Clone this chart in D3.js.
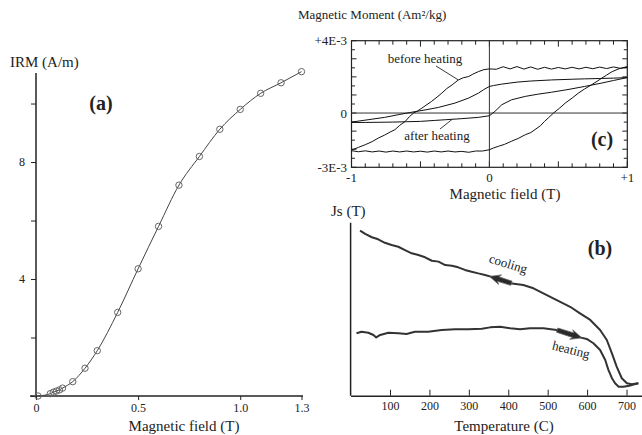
<!DOCTYPE html>
<html>
<head>
<meta charset="utf-8">
<script src="https://cdn.jsdelivr.net/npm/d3@7"></script>
<style>
  body { margin: 0; background: #fff; }
  svg text { font-family: "Liberation Serif", "Tinos", "Times New Roman", Times, "DejaVu Serif", "Noto Serif", serif !important; fill: #222; }
  .eje path, .eje line { stroke: #222; }
</style>
</head>
<body>
<svg id="figura" width="642" height="435"></svg>
<script>
// ---- Datos panel (a): IRM ----
var irmCampo = [0.01, 0.07, 0.085, 0.10, 0.115, 0.13, 0.18, 0.24, 0.30, 0.40, 0.50, 0.60, 0.70, 0.80, 0.90, 1.00, 1.10, 1.20, 1.30];
var irmValor = [0.00, 0.08, 0.13, 0.17, 0.21, 0.27, 0.49, 0.95, 1.55, 2.86, 4.35, 5.80, 7.21, 8.19, 9.12, 9.80, 10.35, 10.71, 11.09];
var irmTicksX = [0, 0.5, 1.0, 1.3];
var irmEtiquetasX = ["0", "0.5", "1.0", "1.3"];
var irmTicksY = [0, 2, 4, 6, 8, 10];
var irmEtiquetasY = ["", "", "4", "", "8", ""];

// ---- Datos panel (c): ciclos de histéresis (E-3 Am2/kg) ----
var antesSupCampo = [1.0, 0.95, 0.9, 0.85, 0.8, 0.75, 0.7, 0.65, 0.6, 0.55, 0.5, 0.45, 0.4, 0.35, 0.3, 0.25, 0.2, 0.15, 0.1, 0.05, 0.0,
  -0.04, -0.08, -0.12, -0.15, -0.19, -0.225, -0.27, -0.31, -0.345, -0.38, -0.42, -0.46, -0.49, -0.52, -0.55, -0.58, -0.61, -0.65, -0.685, -0.72, -0.76, -0.805, -0.85, -0.9, -0.95, -1.0];
var antesSupMom = [2.53, 2.47, 2.55, 2.46, 2.54, 2.45, 2.53, 2.44, 2.53, 2.44, 2.52, 2.43, 2.53, 2.42, 2.55, 2.43, 2.57, 2.44, 2.56, 2.42, 2.44,
  2.40, 2.29, 2.15, 2.02, 1.95, 1.83, 1.56, 1.35, 1.10, 0.88, 0.64, 0.43, 0.27, 0.12, 0.0, -0.20, -0.46, -0.68, -0.92, -1.05, -1.22, -1.38, -1.58, -1.75, -1.90, -2.05];
var antesInfCampo = [-1.0, -0.95, -0.9, -0.85, -0.8, -0.75, -0.7, -0.65, -0.6, -0.55, -0.5, -0.45, -0.4, -0.35, -0.3, -0.25, -0.2, -0.15, -0.1, -0.05, 0.0,
  0.03, 0.065, 0.11, 0.16, 0.21, 0.26, 0.30, 0.33, 0.37, 0.40, 0.43, 0.465, 0.51, 0.55, 0.60, 0.645, 0.69, 0.74, 0.78, 0.815, 0.85, 0.89, 0.94, 1.0];
var antesInfMom = [-2.08, -2.14, -2.09, -2.15, -2.10, -2.16, -2.10, -2.15, -2.10, -2.15, -2.11, -2.16, -2.10, -2.15, -2.10, -2.15, -2.12, -2.17, -2.10, -2.10, -2.03,
  -1.93, -1.84, -1.73, -1.56, -1.40, -1.20, -1.08, -0.92, -0.70, -0.46, -0.25, 0.0, 0.28, 0.55, 0.83, 1.10, 1.33, 1.56, 1.75, 1.93, 2.10, 2.29, 2.45, 2.57];
var despSupCampo = [1.0, 0.9, 0.8, 0.69, 0.6, 0.45, 0.3, 0.2, 0.09, 0.03, 0.0, -0.04, -0.08, -0.15, -0.25, -0.37, -0.46, -0.56, -0.66, -0.76, -0.88, -1.0];
var despSupMom = [1.96, 1.93, 1.91, 1.89, 1.87, 1.83, 1.77, 1.71, 1.60, 1.52, 1.47, 1.30, 1.10, 0.83, 0.55, 0.31, 0.18, 0.05, -0.09, -0.24, -0.37, -0.50];
var despInfCampo = [-1.0, -0.9, -0.8, -0.7, -0.6, -0.5, -0.4, -0.32, -0.2, -0.08, 0.0, 0.04, 0.09, 0.16, 0.26, 0.35, 0.45, 0.57, 0.69, 0.81, 0.9, 1.0];
var despInfMom = [-0.52, -0.52, -0.51, -0.50, -0.48, -0.46, -0.41, -0.37, -0.31, -0.24, -0.15, 0.09, 0.46, 0.73, 0.92, 1.04, 1.15, 1.30, 1.47, 1.65, 1.80, 1.96];
var cicloTicksY = [4, 0, -3];
var cicloEtiquetasY = ["+4E-3", "0", "-3E-3"];
var cicloTicksX = [-1, 0, 1];
var cicloEtiquetasX = ["-1", "0", "+1"];

// ---- Datos panel (b): Js frente a temperatura ----
var enfrT = [24, 37, 54, 70, 87, 104, 121, 138, 155, 172, 189, 206, 223, 240, 257, 273, 290, 307, 324, 341, 362, 380, 405, 438, 464, 489, 523, 557, 582, 608, 633, 650, 663, 675, 688, 701, 713, 730];
var enfrJs = [0.954, 0.935, 0.916, 0.904, 0.884, 0.871, 0.861, 0.842, 0.823, 0.813, 0.800, 0.780, 0.775, 0.755, 0.751, 0.742, 0.727, 0.717, 0.707, 0.698, 0.684, 0.668, 0.650, 0.640, 0.621, 0.592, 0.553, 0.514, 0.476, 0.438, 0.380, 0.322, 0.245, 0.168, 0.101, 0.072, 0.066, 0.072];
var calT = [15, 28, 45, 58, 65, 75, 96, 121, 142, 163, 197, 231, 265, 299, 333, 354, 379, 405, 430, 455, 489, 523, 540, 557, 582, 599, 616, 633, 646, 654, 663, 671, 680, 692, 707, 720, 730];
var calJs = [0.361, 0.370, 0.364, 0.351, 0.337, 0.351, 0.364, 0.361, 0.357, 0.370, 0.370, 0.380, 0.384, 0.384, 0.387, 0.395, 0.399, 0.390, 0.384, 0.390, 0.390, 0.380, 0.370, 0.358, 0.337, 0.328, 0.303, 0.264, 0.206, 0.149, 0.101, 0.072, 0.052, 0.052, 0.058, 0.066, 0.072];
var tempTicks = [100, 200, 300, 400, 500, 600, 700];

var svg = d3.select("#figura");
var serif = "'Liberation Serif', Tinos, 'Times New Roman', 'DejaVu Serif', serif";

// ================= Panel (a) =================
var xA = d3.scaleLinear().domain([0, 1.3]).range([36, 301.5]);
var yA = d3.scaleLinear().domain([0, 11]).range([396, 74.3]);

svg.append("g").attr("class", "eje")
  .attr("transform", "translate(0,396)")
  .call(d3.axisBottom(xA).tickValues(irmTicksX).tickSizeOuter(0).tickSize(4)
    .tickFormat(function (d, i) { return irmEtiquetasX[i]; }))
  .call(g => g.select(".domain").attr("stroke-width", 1.5).attr("d", "M30,0H303"))
  .call(g => g.selectAll("text").attr("font-size", 12).attr("font-family", serif).attr("fill", "#333").attr("y", 12).attr("dy", "0.32em"));

svg.append("g").attr("class", "eje")
  .attr("transform", "translate(36,0)")
  .call(d3.axisLeft(yA).tickValues(irmTicksY).tickSizeOuter(0).tickSize(5)
    .tickFormat(function (d, i) { return irmEtiquetasY[i]; }))
  .call(g => g.select(".domain").attr("stroke-width", 1.5).attr("d", "M0,396V73"))
  .call(g => g.selectAll("text").attr("font-size", 12).attr("font-family", serif).attr("fill", "#333").attr("x", -11));

var irmPuntos = irmCampo.map(function (c, i) { return [c, irmValor[i]]; });
svg.append("path")
  .datum(irmPuntos)
  .attr("fill", "none")
  .attr("stroke", "#444")
  .attr("stroke-width", 1)
  .attr("d", d3.line().x(d => xA(d[0])).y(d => yA(d[1])).curve(d3.curveMonotoneX));

svg.selectAll(".puntoIrm")
  .data(irmPuntos)
  .enter().append("circle")
  .attr("class", "puntoIrm")
  .attr("cx", d => xA(d[0]))
  .attr("cy", d => yA(d[1]))
  .attr("r", 3.2)
  .attr("fill", "none")
  .attr("stroke", "#666")
  .attr("stroke-width", 1);

svg.append("text").attr("x", 10).attr("y", 67).attr("font-size", 15).text("IRM (A/m)");
svg.append("text").attr("x", 101).attr("y", 110).attr("font-size", 20).attr("font-weight", "bold")
  .attr("text-anchor", "middle").text("(a)");
svg.append("text").attr("x", 184).attr("y", 431).attr("font-size", 15)
  .attr("text-anchor", "middle").attr("fill", "#333").text("Magnetic field (T)");

// ================= Panel (c) =================
var xC = d3.scaleLinear().domain([-1, 1]).range([351.5, 627.3]);
var yC = d3.scaleLinear().domain([-3, 4]).range([167.3, 40.7]);

var panelC = svg.append("g");

// Marcas interiores en los cuatro lados
var marcasX = d3.range(-10, 11).map(d => d / 10);
var marcasY = d3.range(-6, 9).map(d => d / 2);
panelC.selectAll(".marcaXinf").data(marcasX).enter().append("line")
  .attr("x1", d => xC(d)).attr("x2", d => xC(d))
  .attr("y1", yC(-3)).attr("y2", d => yC(-3) - (Math.abs(d * 10) % 5 === 0 ? 6 : 4))
  .attr("stroke", "#222");
panelC.selectAll(".marcaXsup").data(marcasX).enter().append("line")
  .attr("x1", d => xC(d)).attr("x2", d => xC(d))
  .attr("y1", yC(4)).attr("y2", d => yC(4) + (Math.abs(d * 10) % 5 === 0 ? 6 : 4))
  .attr("stroke", "#222");
panelC.selectAll(".marcaYizq").data(marcasY).enter().append("line")
  .attr("x1", xC(-1)).attr("x2", d => xC(-1) + (d % 1 === 0 ? 5 : 3.5))
  .attr("y1", d => yC(d)).attr("y2", d => yC(d))
  .attr("stroke", "#222");
panelC.selectAll(".marcaYder").data(marcasY).enter().append("line")
  .attr("x1", xC(1)).attr("x2", d => xC(1) - (d % 1 === 0 ? 5 : 3.5))
  .attr("y1", d => yC(d)).attr("y2", d => yC(d))
  .attr("stroke", "#222");

panelC.append("rect")
  .attr("x", xC(-1)).attr("y", yC(4))
  .attr("width", xC(1) - xC(-1)).attr("height", yC(-3) - yC(4))
  .attr("fill", "none").attr("stroke", "#222").attr("stroke-width", 1.2);
panelC.append("line").attr("x1", xC(-1)).attr("x2", xC(1)).attr("y1", yC(0)).attr("y2", yC(0))
  .attr("stroke", "#333").attr("stroke-width", 1);
panelC.append("line").attr("x1", xC(0)).attr("x2", xC(0)).attr("y1", yC(4)).attr("y2", yC(-3))
  .attr("stroke", "#333").attr("stroke-width", 1);

var lineaC = d3.line().x(d => xC(d[0])).y(d => yC(d[1]));
[[antesSupCampo, antesSupMom], [antesInfCampo, antesInfMom], [despSupCampo, despSupMom], [despInfCampo, despInfMom]]
  .forEach(function (rama) {
    panelC.append("path")
      .datum(rama[0].map(function (c, i) { return [c, rama[1][i]]; }))
      .attr("fill", "none")
      .attr("stroke", "#111")
      .attr("stroke-width", 1)
      .attr("d", lineaC);
  });

panelC.selectAll(".etqY").data(cicloTicksY).enter().append("text")
  .attr("x", 347).attr("y", d => yC(d)).attr("dy", "0.35em")
  .attr("text-anchor", "end").attr("font-size", 13).attr("fill", "#333")
  .text((d, i) => cicloEtiquetasY[i]);
panelC.selectAll(".etqX").data(cicloTicksX).enter().append("text")
  .attr("x", d => xC(d)).attr("y", 182)
  .attr("text-anchor", "middle").attr("font-size", 13).attr("fill", "#333")
  .text((d, i) => cicloEtiquetasX[i]);

svg.append("text").attr("x", 298).attr("y", 19).attr("font-size", 13).text("Magnetic Moment (Am²/kg)");
svg.append("text").attr("x", 505).attr("y", 199).attr("font-size", 15)
  .attr("text-anchor", "middle").attr("fill", "#333").text("Magnetic field (T)");
svg.append("text").attr("x", 602).attr("y", 146).attr("font-size", 20).attr("font-weight", "bold")
  .attr("text-anchor", "middle").text("(c)");

// Anotaciones con línea indicadora
svg.append("text").attr("x", 425).attr("y", 63).attr("font-size", 13)
  .attr("text-anchor", "middle").text("before heating");
svg.append("line").attr("x1", 436).attr("y1", 66).attr("x2", xC(-0.225)).attr("y2", yC(1.83))
  .attr("stroke", "#222").attr("stroke-width", 0.9);
svg.append("text").attr("x", 437).attr("y", 140).attr("font-size", 13)
  .attr("text-anchor", "middle").attr("fill", "#444").text("after heating");
svg.append("line").attr("x1", 440).attr("y1", 129).attr("x2", xC(-0.27)).attr("y2", yC(-0.35))
  .attr("stroke", "#222").attr("stroke-width", 0.9);

// ================= Panel (b) =================
var xB = d3.scaleLinear().domain([0, 738]).range([350.6, 641.5]);
var yB = d3.scaleLinear().domain([0, 1]).range([395.7, 222.7]);

svg.append("g").attr("class", "eje")
  .attr("transform", "translate(0,395.7)")
  .call(d3.axisBottom(xB).tickValues(tempTicks).tickSizeInner(-6).tickSizeOuter(0))
  .call(g => g.select(".domain").attr("stroke-width", 1.5))
  .call(g => g.selectAll("text").attr("font-size", 12).attr("font-family", serif).attr("fill", "#333").attr("y", 10).attr("dy", "0.32em"));
svg.append("line").attr("x1", xB(0)).attr("x2", xB(0)).attr("y1", yB(0)).attr("y2", yB(1))
  .attr("stroke", "#222").attr("stroke-width", 1.5);

var lineaB = d3.line().x(d => xB(d[0])).y(d => yB(d[1]));
svg.append("path")
  .datum(enfrT.map(function (t, i) { return [t, enfrJs[i]]; }))
  .attr("fill", "none").attr("stroke", "#333").attr("stroke-width", 2)
  .attr("stroke-linejoin", "round").attr("d", lineaB);
svg.append("path")
  .datum(calT.map(function (t, i) { return [t, calJs[i]]; }))
  .attr("fill", "none").attr("stroke", "#333").attr("stroke-width", 2)
  .attr("stroke-linejoin", "round").attr("d", lineaB);

// Flechas de dirección sobre las curvas
function flecha(t0, v0, t1, v1) {
  var x0 = xB(t0), y0 = yB(v0), x1 = xB(t1), y1 = yB(v1);
  var ang = Math.atan2(y1 - y0, x1 - x0) * 180 / Math.PI;
  var largo = Math.hypot(x1 - x0, y1 - y0);
  var g = svg.append("g").attr("transform", "translate(" + x1 + "," + y1 + ") rotate(" + ang + ")");
  g.append("path")
    .attr("d", "M1,0 L-10,-5 L-8,-2.4 L" + (-largo) + ",-2.2 L" + (-largo) + ",2.2 L-8,2.4 L-10,5 Z")
    .attr("fill", "#2a2a2a").attr("stroke", "#666").attr("stroke-width", 0.7);
}
flecha(408, 0.650, 355, 0.688);
flecha(524, 0.379, 584, 0.336);

svg.append("text").attr("font-size", 13).attr("text-anchor", "middle")
  .attr("transform", "translate(507,268) rotate(17)").text("cooling");
svg.append("text").attr("font-size", 13).attr("text-anchor", "middle")
  .attr("transform", "translate(570,354) rotate(14)").text("heating");
svg.append("text").attr("x", 600).attr("y", 255).attr("font-size", 20).attr("font-weight", "bold")
  .attr("text-anchor", "middle").text("(b)");
svg.append("text").attr("x", 331).attr("y", 216).attr("font-size", 15).text("Js (T)");
svg.append("text").attr("x", 504).attr("y", 431).attr("font-size", 15)
  .attr("text-anchor", "middle").attr("fill", "#333").text("Temperature (C)");
</script>
</body>
</html>
